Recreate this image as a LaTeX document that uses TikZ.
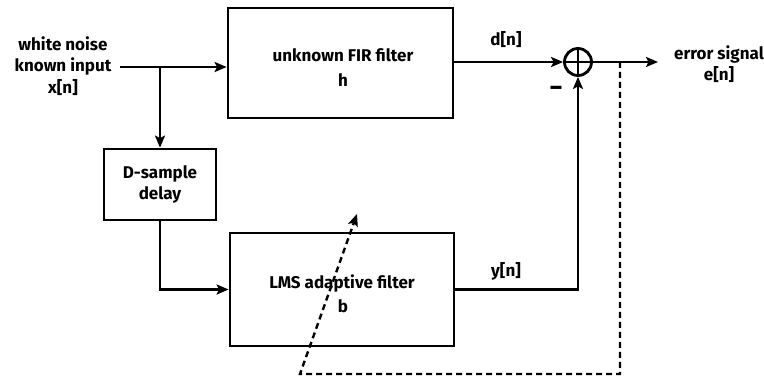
\documentclass[tikz,border=0pt]{standalone}
\usepackage{fontspec}
\setmainfont{Fira Sans}
\usetikzlibrary{arrows.meta}
\begin{document}
\begin{tikzpicture}[x=1pt,y=-1pt,
  every node/.style={font=\fontsize{17}{21.5}\selectfont\bfseries, align=center, inner sep=0pt},
  blockbox/.style={draw, line width=2.8pt},
  wire/.style={line width=2.4pt},
  tip/.tip={Stealth[length=12pt,width=10pt,inset=2.5pt]},
  arr/.style={wire, -tip},
  fb/.style={line width=2.4pt, dash pattern=on 6pt off 4pt}]
\useasboundingbox (0,0) rectangle (764,379);

% blocks
\node[blockbox, minimum width=225pt, minimum height=110pt] (fir) at (340.5,63) {};
\node at (343,55) {unknown FIR filter};
\node at (343,80) {h};
\node[blockbox, minimum width=112pt, minimum height=71pt] (dly) at (160,184.5) {D-sample\\delay};
\node[blockbox, minimum width=224pt, minimum height=113pt] (lms) at (342,289.5) {};
\node at (342,283) {LMS adaptive filter};
\node at (343,306) {b};
\node[draw, circle, line width=2.8pt, minimum size=27pt] (sum) at (578,62) {};
\draw[line width=2.2pt] (sum.north) -- (sum.south) (sum.west) -- (sum.east);

% labels
\node (xin) at (63,66) {white noise\\known input\\x[n]};
\node at (506,40) {d[n]};
\node at (506,271) {y[n]};
\node (err) at (719,64) {error signal\\e[n]};
\node at (556,91) {\fontsize{26}{26}\selectfont\textminus};

% connections
\coordinate (src) at (120,67);
\coordinate (br) at (160,67);
\coordinate (tap) at (620,62);
\coordinate (out) at (658,62);
\draw[arr] (src) -- (fir.west |- src);
\draw[arr] (br) -- (dly.north);
\draw[arr] (dly.south) |- (lms.west);
\draw[arr] (fir.east |- sum) -- (sum.west);
\draw[arr] (lms.east) -| (sum.south);
\draw[arr] (sum.east) -- (out);

% error feedback to the adaptive filter
\coordinate (c1) at (620,374);
\coordinate (c2) at (300,374);
\coordinate (fbend) at (357,214);
\draw[fb, -tip] (tap) -- (c1) -- (c2) -- (fbend);
\end{tikzpicture}
\end{document}
